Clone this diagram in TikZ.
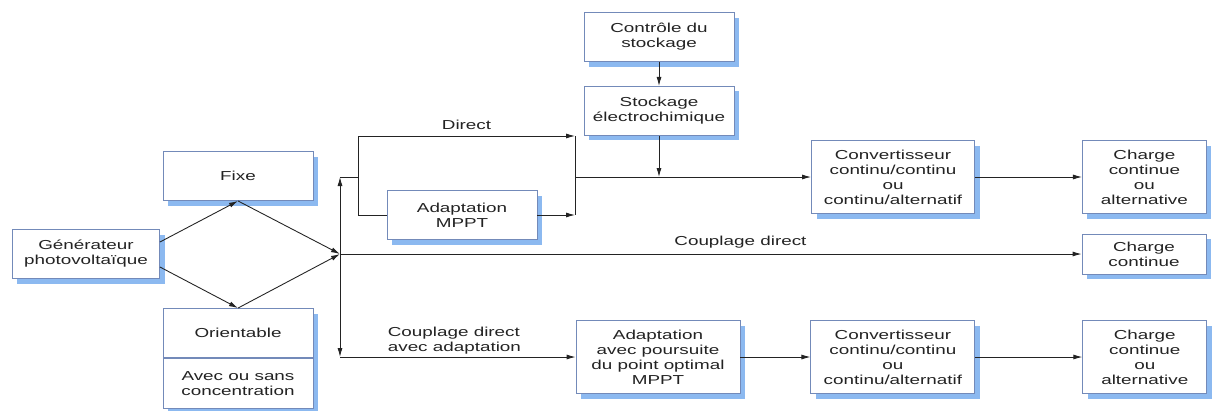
\documentclass[tikz,border=0pt]{standalone}
\usepackage{fontspec}
\setmainfont{Liberation Sans}[FakeStretch=1.45]
\usetikzlibrary{arrows.meta,positioning,shadows}
\definecolor{boxline}{RGB}{115,138,185}
\definecolor{boxshadow}{RGB}{140,185,240}
\definecolor{inkcolor}{RGB}{35,35,35}

\begin{document}
\begin{tikzpicture}[
    x=0.2mm, y=-0.2mm,
    every node/.style={font=\fontsize{7.4}{8.5}\selectfont,align=center,text=inkcolor},
    box/.style={draw=boxline,fill=white,line width=0.5pt,inner sep=0pt,
                minimum width=30mm,minimum height=9.8mm,
                drop shadow={shadow xshift=1mm,shadow yshift=-1mm,
                             fill=boxshadow,opacity=1}},
    widebox/.style={box,minimum width=32.8mm,minimum height=14.6mm},
    loadbox/.style={box,minimum width=24.8mm,minimum height=14.6mm},
    arrow/.style={-{Latex[length=1.8mm,width=1mm]},draw=inkcolor,line width=0.5pt},
    link/.style={draw=inkcolor,line width=0.5pt}
]
\fill[white] (0,0) rectangle (1213,410);
\useasboundingbox (0,0) rectangle (1213,410);

% source and mounting
\node[box,minimum width=29.4mm] (gen) at (86,254) {Générateur\\photovoltaïque};
\node[box] (fixe) at (238,176) {Fixe};
\node[box] (orient) at (238,333) {Orientable};
\node[box,minimum height=10mm,below=0pt of orient] (conc) {Avec ou sans\\concentration};

\coordinate (junc) at (340,254);
\coordinate (jup) at (340,177);
\coordinate (jdown) at (340,357);

% storage branch
\coordinate (brMid) at (358,177);
\coordinate (brTop) at (358,136);
\coordinate (brBot) at (358,215);
\coordinate (brTopR) at (575,136);
\coordinate (brBotR) at (575,215);
\coordinate (brMidR) at (575,177);
\node[box] (mppt) at (462,215) {Adaptation\\MPPT};
\node[box] (ctrl) at (659,37) {Contrôle du\\stockage};
\node[box,below=4.8mm of ctrl] (stock) {Stockage\\électrochimique};
\coordinate (stockIn) at (stock.south |- brMidR);
\node[widebox,minimum width=32.6mm] (conv) at (893,177) {Convertisseur\\continu/continu\\ou\\continu/alternatif};
\node[loadbox,right=21.4mm of conv] (chargeA) {Charge\\continue\\ou\\alternative};

% direct coupling
\node[box,minimum width=24.8mm,minimum height=8mm] (chargeB) at (1144,254) {Charge\\continue};

% coupling with adaptation
\node[widebox] (adapt) at (658,357) {Adaptation\\avec poursuite\\du point optimal\\MPPT};
\node[widebox,right=14mm of adapt] (convB) {Convertisseur\\continu/continu\\ou\\continu/alternatif};
\node[loadbox,right=21.4mm of convB] (chargeC) {Charge\\continue\\ou\\alternative};

\draw[arrow] ([yshift=2.4mm]gen.east) -- (fixe.south);
\draw[arrow] ([yshift=-2.6mm]gen.east) -- (orient.north);
\draw[arrow] (fixe.south) -- (junc);
\draw[arrow] (orient.north) -- (junc);
\draw[arrow] (junc) -- (jup);
\draw[arrow] (junc) -- (jdown);
\draw[link] (jup) -- (brMid);
\draw[link] (brTop) -- (brBot);
\draw[arrow] (brTop) -- node[above]{Direct} (brTopR);
\draw[link] (brBot) -- (mppt.west);
\draw[arrow] (mppt.east) -- (brBotR);
\draw[link] (brTopR) -- (brBotR);
\draw[arrow] (brMidR) -- (conv.west);
\draw[arrow] (ctrl) -- (stock);
\draw[arrow] (stock.south) -- (stockIn);
\draw[arrow] (conv) -- (chargeA);
\draw[arrow] (junc) -- node[above,pos=0.54]{Couplage direct} (chargeB.west);
\draw[arrow] (jdown) -- node[pos=0.19,anchor=south west,align=left,inner sep=1.5pt]{Couplage direct\\avec adaptation} (adapt.west);
\draw[arrow] (adapt) -- (convB);
\draw[arrow] (convB) -- (chargeC);
\end{tikzpicture}
\end{document}
